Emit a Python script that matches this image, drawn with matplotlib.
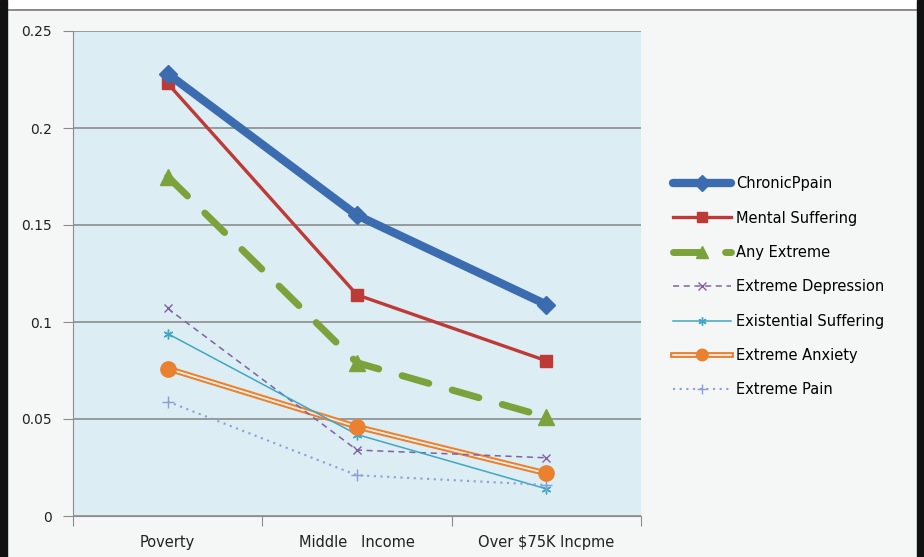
import numpy as np
import matplotlib.pyplot as plt
import matplotlib.patheffects as pe
from matplotlib.lines import Line2D

# ------------------------------------------------------------
# Data
# ------------------------------------------------------------
categories = ['Poverty', 'Middle   Income', 'Over $75K Incpme']
chronic_pain = [0.228, 0.155, 0.109]
mental_suffering = [0.223, 0.114, 0.080]
any_extreme = [0.175, 0.079, 0.051]
extreme_depression = [0.107, 0.034, 0.030]
existential_suffering = [0.094, 0.042, 0.014]
extreme_anxiety = [0.076, 0.046, 0.022]
extreme_pain = [0.059, 0.021, 0.016]
y_ticks = [0, 0.05, 0.1, 0.15, 0.2, 0.25]
y_labels = ['0', '0.05', '0.1', '0.15', '0.2', '0.25']

# ------------------------------------------------------------
# Figure
# ------------------------------------------------------------
fig = plt.figure(figsize=(9.24, 5.57), dpi=100)
fig.patch.set_facecolor('#f5f7f7')
ax = fig.add_axes([73 / 924, 41 / 557, 568 / 924, 485 / 557])
ax.set_facecolor('#dcedf3')

x = np.arange(len(categories)) + 0.5
orange = '#ea8130'
double_line = [pe.Stroke(linewidth=4.2, foreground=orange), pe.Normal()]

h1, = ax.plot(x, chronic_pain, color='#3c6cb0', lw=6, marker='D', ms=9,
              solid_capstyle='round', zorder=8)
h2, = ax.plot(x, mental_suffering, color='#bd3a36', lw=2.4, marker='s', ms=8,
              zorder=7)
h3, = ax.plot(x, any_extreme, color='#7ba23b', lw=5, marker='^', ms=11,
              dashes=(4, 3.5), dash_capstyle='round', zorder=6)
h4, = ax.plot(x, extreme_depression, color='#8062a3', lw=1.1, marker='x', ms=6,
              dashes=(4, 3), zorder=5)
h5, = ax.plot(x, existential_suffering, color='#3fa7c4', lw=1.1, marker=(6, 2, 0),
              ms=7, zorder=5)
ax.plot(x, extreme_anxiety, color='#f8ede6', lw=1.3, path_effects=double_line,
        zorder=4)
ax.plot(x, extreme_anxiety, color=orange, lw=0, marker='o', ms=11, zorder=9)
h7, = ax.plot(x, extreme_pain, color='#8a9fd6', lw=1.5, marker='+', ms=9,
              linestyle=(0, (1, 2.2)), zorder=5)

# axes styling
ax.set_xlim(0, 3)
ax.set_ylim(0, 0.25)
ax.set_yticks(y_ticks)
ax.set_yticklabels(y_labels)
ax.yaxis.grid(True, color='#8c8c8c', lw=1.2)
ax.set_axisbelow(True)
ax.set_xticks([0, 1, 2, 3])
ax.set_xticklabels([])
ax.set_xticks(x, minor=True)
ax.set_xticklabels(categories, minor=True)
ax.tick_params(axis='x', which='major', length=7, color='#8c8c8c')
ax.tick_params(axis='x', which='minor', length=0, pad=14, labelsize=10.5,
               labelcolor='#222222')
ax.tick_params(axis='y', length=7, color='#8c8c8c', labelsize=10,
               labelcolor='#222222', pad=8)
for s in ['top', 'right']:
    ax.spines[s].set_visible(False)
for s in ['left', 'bottom']:
    ax.spines[s].set_color('#8c8c8c')

# legend (proxy for the double-line anxiety entry)
h6 = Line2D([], [], color='#f8ede6', lw=1.3, path_effects=double_line,
            marker='o', ms=6, markerfacecolor=orange, markeredgecolor=orange)
handles = [h1, h2, h3, h4, h5, h6, h7]
labels = ['ChronicPpain', 'Mental Suffering', 'Any Extreme', 'Extreme Depression',
          'Existential Suffering', 'Extreme Anxiety', 'Extreme Pain']
fig.legend(handles, labels, loc='upper left', bbox_to_anchor=(660 / 924, 1 - 163 / 557),
           frameon=False, fontsize=10.5, handlelength=4, labelspacing=1.33,
           handletextpad=0.3, markerscale=0.85)

# frame decorations like the source image
fig.add_artist(Line2D([7 / 924, 917 / 924], [1 - 10 / 557, 1 - 10 / 557],
                      color='#777777', lw=1.2, transform=fig.transFigure))
fig.patches.append(plt.Rectangle((7 / 924, 1 - 10 / 557), 910 / 924, 10 / 557,
                                 transform=fig.transFigure, color='white', zorder=0))
fig.patches.append(plt.Rectangle((0, 0), 7 / 924, 1, transform=fig.transFigure,
                                 color='#111111', zorder=5))
fig.patches.append(plt.Rectangle((917 / 924, 0), 7 / 924, 1, transform=fig.transFigure,
                                 color='#111111', zorder=5))

fig.savefig('out.png', dpi=100, facecolor=fig.get_facecolor())
